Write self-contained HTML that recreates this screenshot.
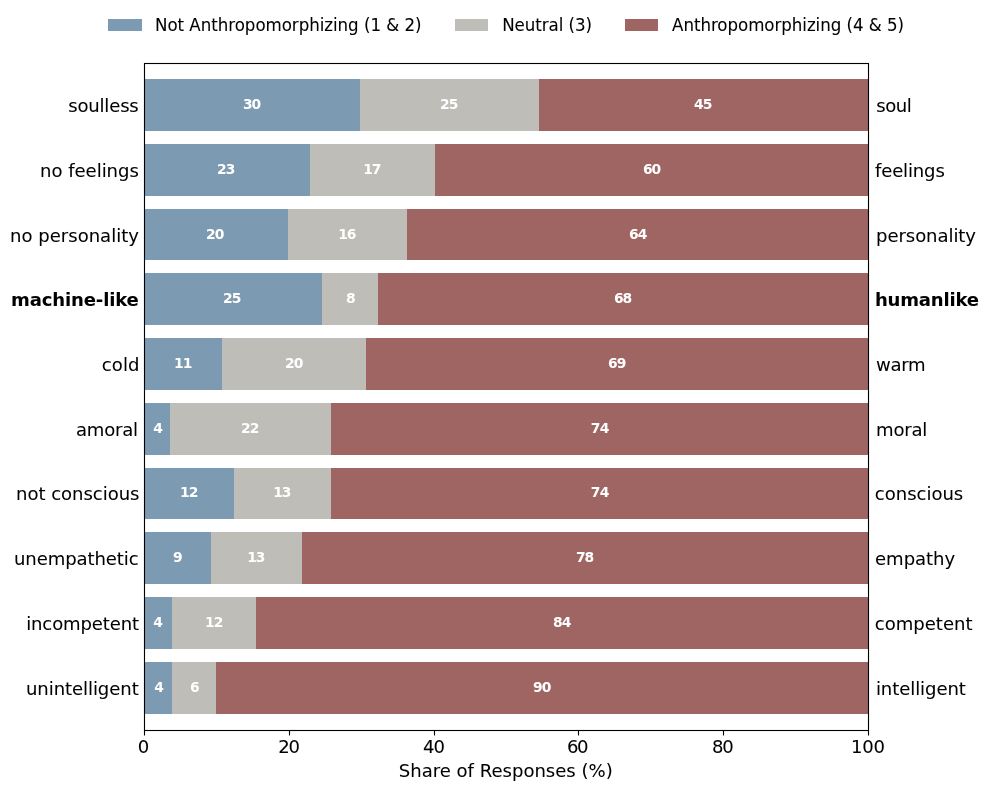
<!DOCTYPE html>
<html lang="en"><head><meta charset="utf-8"><title>Share of Responses</title>
<style>html,body{margin:0;padding:0;background:#fff}svg{display:block}text{font-family:"DejaVu Sans","Liberation Sans",sans-serif;fill:#000;stroke-linejoin:round}.t{font-size:18.06px;stroke:#000;stroke-width:0.06}.l{font-size:16.67px;stroke:#000;stroke-width:0.06}.b{font-size:13.89px;font-weight:bold;fill:#fff;stroke:#fff;stroke-width:0}.bd{font-weight:bold;stroke-width:0.02}</style></head><body>
<svg width="989" height="791" viewBox="0 0 989 791">
<rect width="989" height="791" fill="#fff"/>
<rect x="108" y="19" width="34" height="12" fill="#7c9ab2"/>
<rect x="455" y="19" width="33" height="12" fill="#bfbdb7"/>
<rect x="625" y="19" width="33" height="12" fill="#9e6563"/>
<rect x="144" y="79" width="216" height="52" fill="#7c9ab2"/>
<rect x="360" y="79" width="179" height="52" fill="#bfbdb7"/>
<rect x="539" y="79" width="330" height="52" fill="#9e6563"/>
<rect x="144" y="144" width="166" height="52" fill="#7c9ab2"/>
<rect x="310" y="144" width="125" height="52" fill="#bfbdb7"/>
<rect x="435" y="144" width="434" height="52" fill="#9e6563"/>
<rect x="144" y="209" width="144" height="51" fill="#7c9ab2"/>
<rect x="288" y="209" width="119" height="51" fill="#bfbdb7"/>
<rect x="407" y="209" width="462" height="51" fill="#9e6563"/>
<rect x="144" y="273" width="178" height="52" fill="#7c9ab2"/>
<rect x="322" y="273" width="56" height="52" fill="#bfbdb7"/>
<rect x="378" y="273" width="491" height="52" fill="#9e6563"/>
<rect x="144" y="338" width="78" height="52" fill="#7c9ab2"/>
<rect x="222" y="338" width="144" height="52" fill="#bfbdb7"/>
<rect x="366" y="338" width="503" height="52" fill="#9e6563"/>
<rect x="144" y="403" width="26" height="52" fill="#7c9ab2"/>
<rect x="170" y="403" width="161" height="52" fill="#bfbdb7"/>
<rect x="331" y="403" width="538" height="52" fill="#9e6563"/>
<rect x="144" y="468" width="90" height="51" fill="#7c9ab2"/>
<rect x="234" y="468" width="97" height="51" fill="#bfbdb7"/>
<rect x="331" y="468" width="538" height="51" fill="#9e6563"/>
<rect x="144" y="532" width="67" height="52" fill="#7c9ab2"/>
<rect x="211" y="532" width="91" height="52" fill="#bfbdb7"/>
<rect x="302" y="532" width="567" height="52" fill="#9e6563"/>
<rect x="144" y="597" width="28" height="52" fill="#7c9ab2"/>
<rect x="172" y="597" width="84" height="52" fill="#bfbdb7"/>
<rect x="256" y="597" width="613" height="52" fill="#9e6563"/>
<rect x="144" y="662" width="28" height="52" fill="#7c9ab2"/>
<rect x="172" y="662" width="44" height="52" fill="#bfbdb7"/>
<rect x="216" y="662" width="653" height="52" fill="#9e6563"/>
<rect x="144.50" y="63.50" width="724.00" height="667.00" fill="none" stroke="#000" stroke-width="1.11"/>
<line x1="144.5" y1="730.5" x2="144.5" y2="735.5" stroke="#000" stroke-width="1.11"/>
<line x1="289.5" y1="730.5" x2="289.5" y2="735.5" stroke="#000" stroke-width="1.11"/>
<line x1="434.5" y1="730.5" x2="434.5" y2="735.5" stroke="#000" stroke-width="1.11"/>
<line x1="578.5" y1="730.5" x2="578.5" y2="735.5" stroke="#000" stroke-width="1.11"/>
<line x1="723.5" y1="730.5" x2="723.5" y2="735.5" stroke="#000" stroke-width="1.11"/>
<line x1="868.5" y1="730.5" x2="868.5" y2="735.5" stroke="#000" stroke-width="1.11"/>
<text id="leg0" class="l" transform="translate(155.04 30.96) scale(1 1.0700)" textLength="266.42" lengthAdjust="spacing">Not Anthropomorphizing (1 &amp; 2)</text>
<text id="leg1" class="l" transform="translate(502.14 30.99) scale(1 1.0700)" textLength="89.97" lengthAdjust="spacing">Neutral (3)</text>
<text id="leg2" class="l" transform="translate(672.06 31.00) scale(1 1.0700)" textLength="231.90" lengthAdjust="spacing">Anthropomorphizing (4 &amp; 5)</text>
<text id="L0" class="t" transform="translate(68.17 111.90)" textLength="70.61" lengthAdjust="spacing">soulless</text>
<text id="R0" class="t" transform="translate(876.17 111.90)" textLength="35.64" lengthAdjust="spacing">soul</text>
<text id="B0_0" class="b" transform="translate(242.90 109.00)" textLength="18.39" lengthAdjust="spacing">30</text>
<text id="B0_1" class="b" transform="translate(440.03 109.00)" textLength="18.29" lengthAdjust="spacing">25</text>
<text id="B0_2" class="b" transform="translate(694.06 109.00)" textLength="18.32" lengthAdjust="spacing">45</text>
<text id="L1" class="t" transform="translate(40.06 176.99)" textLength="98.83" lengthAdjust="spacing">no feelings</text>
<text id="R1" class="t" transform="translate(874.99 176.89)" textLength="69.83" lengthAdjust="spacing">feelings</text>
<text id="B1_0" class="b" transform="translate(217.03 174.14)" textLength="18.41" lengthAdjust="spacing">23</text>
<text id="B1_1" class="b" transform="translate(363.13 174.00)" textLength="18.39" lengthAdjust="spacing">17</text>
<text id="B1_2" class="b" transform="translate(643.00 174.07)" textLength="18.26" lengthAdjust="spacing">60</text>
<text id="L2" class="t" transform="translate(10.08 242.40)" textLength="128.83" lengthAdjust="spacing">no personality</text>
<text id="R2" class="t" transform="translate(876.08 242.40)" textLength="99.93" lengthAdjust="spacing">personality</text>
<text id="B2_0" class="b" transform="translate(206.03 238.50)" textLength="18.41" lengthAdjust="spacing">20</text>
<text id="B2_1" class="b" transform="translate(338.13 238.50)" textLength="18.18" lengthAdjust="spacing">16</text>
<text id="B2_2" class="b" transform="translate(629.00 238.50)" textLength="18.30" lengthAdjust="spacing">64</text>
<text id="L3" class="t bd" transform="translate(11.09 305.90)" textLength="127.79" lengthAdjust="spacing">machine-like</text>
<text id="R3" class="t bd" transform="translate(874.96 305.90)" textLength="104.01" lengthAdjust="spacing">humanlike</text>
<text id="B3_0" class="b" transform="translate(223.03 303.00)" textLength="18.35" lengthAdjust="spacing">25</text>
<text id="B3_1" class="b" transform="translate(346.04 303.00)" textLength="9.66" lengthAdjust="spacing">8</text>
<text id="B3_2" class="b" transform="translate(614.01 303.07)" textLength="18.21" lengthAdjust="spacing">68</text>
<text id="L4" class="t" transform="translate(101.85 370.90)" textLength="37.64" lengthAdjust="spacing">cold</text>
<text id="R4" class="t" transform="translate(876.08 370.90)" textLength="49.56" lengthAdjust="spacing">warm</text>
<text id="B4_0" class="b" transform="translate(174.12 368.00)" textLength="18.21" lengthAdjust="spacing">11</text>
<text id="B4_1" class="b" transform="translate(285.08 368.00)" textLength="18.41" lengthAdjust="spacing">20</text>
<text id="B4_2" class="b" transform="translate(608.01 368.00)" textLength="18.37" lengthAdjust="spacing">69</text>
<text id="L5" class="t" transform="translate(75.92 435.90)" textLength="62.11" lengthAdjust="spacing">amoral</text>
<text id="R5" class="t" transform="translate(876.08 435.90)" textLength="51.17" lengthAdjust="spacing">moral</text>
<text id="B5_0" class="b" transform="translate(153.15 433.00)" textLength="9.66" lengthAdjust="spacing">4</text>
<text id="B5_1" class="b" transform="translate(241.03 433.06)" textLength="18.34" lengthAdjust="spacing">22</text>
<text id="B5_2" class="b" transform="translate(590.84 433.00)" textLength="18.52" lengthAdjust="spacing">74</text>
<text id="L6" class="t" transform="translate(16.06 500.40)" textLength="123.43" lengthAdjust="spacing">not conscious</text>
<text id="R6" class="t" transform="translate(874.85 500.40)" textLength="88.41" lengthAdjust="spacing">conscious</text>
<text id="B6_0" class="b" transform="translate(180.12 496.50)" textLength="18.30" lengthAdjust="spacing">12</text>
<text id="B6_1" class="b" transform="translate(273.13 496.50)" textLength="18.29" lengthAdjust="spacing">13</text>
<text id="B6_2" class="b" transform="translate(590.84 496.50)" textLength="18.52" lengthAdjust="spacing">74</text>
<text id="L7" class="t" transform="translate(13.94 564.90)" textLength="124.66" lengthAdjust="spacing">unempathetic</text>
<text id="R7" class="t" transform="translate(875.06 564.90)" textLength="80.14" lengthAdjust="spacing">empathy</text>
<text id="B7_0" class="b" transform="translate(173.07 561.90)" textLength="9.66" lengthAdjust="spacing">9</text>
<text id="B7_1" class="b" transform="translate(247.13 562.00)" textLength="18.29" lengthAdjust="spacing">13</text>
<text id="B7_2" class="b" transform="translate(575.97 562.00)" textLength="18.29" lengthAdjust="spacing">78</text>
<text id="L8" class="t" transform="translate(26.16 629.90)" textLength="112.94" lengthAdjust="spacing">incompetent</text>
<text id="R8" class="t" transform="translate(874.85 629.83)" textLength="97.62" lengthAdjust="spacing">competent</text>
<text id="B8_0" class="b" transform="translate(153.15 627.00)" textLength="9.66" lengthAdjust="spacing">4</text>
<text id="B8_1" class="b" transform="translate(205.08 627.00)" textLength="18.30" lengthAdjust="spacing">12</text>
<text id="B8_2" class="b" transform="translate(553.01 627.00)" textLength="18.37" lengthAdjust="spacing">84</text>
<text id="L9" class="t" transform="translate(25.94 695.02)" textLength="112.79" lengthAdjust="spacing">unintelligent</text>
<text id="R9" class="t" transform="translate(875.94 694.93)" textLength="89.96" lengthAdjust="spacing">intelligent</text>
<text id="B9_0" class="b" transform="translate(154.15 692.00)" textLength="9.66" lengthAdjust="spacing">4</text>
<text id="B9_1" class="b" transform="translate(190.04 692.03)" textLength="9.66" lengthAdjust="spacing">6</text>
<text id="B9_2" class="b" transform="translate(533.05 691.92)" textLength="18.29" lengthAdjust="spacing">90</text>
<text id="T0" class="t" transform="translate(137.81 753.20)" textLength="11.48" lengthAdjust="spacing">0</text>
<text id="T20" class="t" transform="translate(278.15 753.13)" textLength="21.74" lengthAdjust="spacing">20</text>
<text id="T40" class="t" transform="translate(423.08 753.20)" textLength="21.82" lengthAdjust="spacing">40</text>
<text id="T60" class="t" transform="translate(566.96 753.09)" textLength="21.58" lengthAdjust="spacing">60</text>
<text id="T80" class="t" transform="translate(711.94 753.28)" textLength="21.69" lengthAdjust="spacing">80</text>
<text id="T100" class="t" transform="translate(850.91 753.20)" textLength="34.11" lengthAdjust="spacing">100</text>
<text id="XL" class="t" transform="translate(398.79 776.50)" textLength="213.93" lengthAdjust="spacing">Share of Responses (%)</text>
</svg></body></html>
